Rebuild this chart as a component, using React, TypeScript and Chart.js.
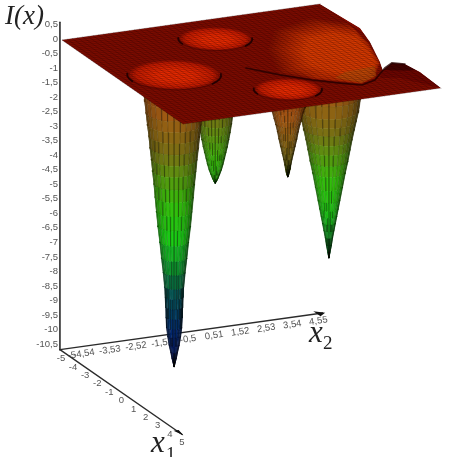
import React, { useEffect, useRef } from "react";
import { Chart, registerables } from "chart.js";

Chart.register(...registerables);

// ---- values ----
const zTicks = ["0,5","0","-0,5","-1","-1,5","-2","-2,5","-3","-3,5","-4","-4,5","-5","-5,5","-6","-6,5","-7","-7,5","-8","-8,5","-9","-9,5","-10","-10,5"];
const zTickValues = [0.5,0,-0.5,-1,-1.5,-2,-2.5,-3,-3.5,-4,-4.5,-5,-5.5,-6,-6.5,-7,-7.5,-8,-8.5,-9,-9.5,-10,-10.5];
const x1Ticks = [-5,-4,-3,-2,-1,0,1,2,3,4,5];
const x2TickValues = [-5,-4.54,-3.53,-2.52,-1.51,-0.5,0.51,1.52,2.53,3.54,4.55];
const x2Ticks = ["-5","-4,54","-3,53","-2,52","-1,51","-0,5","0,51","1,52","2,53","3,54","4,55"];

// four wells: centre, depth levels and radius at each level
const well1 = { x1: 0, x2: -3,
  z: [0,-0.5,-0.86,-1.3,-1.7,-2.1,-2.5,-2.9,-3.3,-3.75,-4.2,-4.7,-5.2,-5.75,-6.3,-6.8,-7.3,-7.65,-8,-8.35,-8.7,-9,-9.3,-9.55,-9.75,-9.9,-10.05],
  r: [1.2,1.1,1.05,1,0.95,0.9,0.86,0.81,0.77,0.72,0.68,0.63,0.58,0.51,0.45,0.39,0.34,0.32,0.3,0.29,0.27,0.23,0.18,0.12,0.08,0.04,0] };
const well2 = { x1: -3, x2: 0,
  z: [0,-0.5,-1,-1.5,-2,-2.3,-2.6,-2.9,-3.2,-3.45,-3.7,-3.9,-4.1,-4.3,-4.5,-4.65,-4.8,-4.9,-4.97],
  r: [1.2,1.08,0.95,0.83,0.72,0.67,0.62,0.58,0.53,0.48,0.43,0.38,0.33,0.28,0.22,0.16,0.1,0.05,0] };
const well3 = { x1: 3, x2: 0,
  z: [0,-0.2,-0.4,-0.6,-0.75,-1,-1.2,-1.45,-1.7,-1.95,-2.2,-2.4,-2.6,-2.75,-2.85,-2.95,-3.02],
  r: [0.9,0.8,0.7,0.62,0.56,0.49,0.43,0.37,0.32,0.26,0.2,0.15,0.11,0.08,0.06,0.03,0] };
const well4 = { x1: 0, x2: 3,
  z: [0,-0.5,-1,-1.5,-1.96,-2.3,-2.6,-2.95,-3.3,-3.7,-4.1,-4.6,-5.05,-5.35,-5.6,-5.85,-6.1,-6.35,-6.6,-6.85,-7.05],
  r: [1.4,1.3,1.2,1.12,1.05,0.97,0.9,0.82,0.75,0.67,0.58,0.48,0.39,0.33,0.28,0.23,0.18,0.13,0.09,0.04,0] };
const wellsBackToFront = [well2, well4, well3, well1];

// rims seen on the sheet at z = 0
const rimDiscs = [
  { x1: -3, x2: 0, r: 1.3 },
  { x1: 0, x2: -3, r: 1.65 },
  { x1: 3, x2: 0, r: 1.2 },
];

// colour against height
const colorLevels = [0,-1,-2.5,-4.2,-5.5,-6.8,-7.4,-8.8,-10.1];
const colorRgb = [[150,62,14],[150,82,18],[112,104,18],[50,175,10],[24,190,20],[10,130,50],[8,90,85],[0,40,115],[0,15,95]];

// sheet outline
const sheetOutline = [[-5,-5],[-5,5],[-2.07,5.18],[-0.54,4.85],[1.58,4.24],[2.41,3.96],[1.84,4.58],[2.12,4.95],[3.12,5.07],[5,5],[5,-5]];
const outsideCorners = [[5,8],[-5,8]];
const patch1 = [[-3.05,2.34],[-3.75,4.02],[-2.8,5],[-0.57,4.78],[1.58,4.24],[3.11,3.36],[3.51,2.63],[2.33,1.26],[1.38,0.45],[-1.16,1.19]];
const patch2 = [[-2.37,2.8],[-2.75,4.14],[-1.94,4.92],[-0.37,4.68],[1.66,4.16],[3.06,3.23],[3.38,2.62],[2.27,1.39],[1,1.22],[-0.88,1.83]];
const patch3 = [[-1.77,3.09],[-1.91,4.14],[-1.11,4.64],[0.22,4.41],[1.62,4.06],[2.56,3.2],[2.3,2.7],[1.95,2.32],[1.04,1.86],[-0.48,2.22]];
const patch4 = [[2.08,2.64],[1.91,3.89],[2.91,3.46],[3.41,2.68],[2.55,2.04]];
const hump = [[2.41,3.96],[1.84,4.58],[2.12,4.95],[3.12,5.07],[5,5],[3.44,4.14],[3.17,3.49]];
const humpCrest = [[2.41,3.96],[1.84,4.58],[2.12,4.95],[2.9,5.0],[2.7,4.5]];
const creaseLine = [[0.32,-0.36],[1.48,0.41],[2.42,1.21],[3.11,1.97],[3.61,2.59],[3.29,3.24],[2.24,4.12],[1.84,4.58],[2.12,4.95]];

// ---- oblique view of the axes ----
const px = (a: number, b: number, z: number) => 62 + (a + 5) * 12.1 + (b + 5) * 25.8;
const py = (a: number, b: number, z: number) => 40 + (a + 5) * 8.4 - (b + 5) * 3.6 - z * 29.05;
const pt = (a: number, b: number, z = 0) => ({ x: px(a, b, z), y: py(a, b, z) });

function colorAt(z: number): number[] {
  for (let i = 1; i < colorLevels.length; i++) {
    if (z >= colorLevels[i]) {
      const t = (colorLevels[i - 1] - z) / (colorLevels[i - 1] - colorLevels[i]);
      return colorRgb[i].map((c, k) => colorRgb[i - 1][k] + (c - colorRgb[i - 1][k]) * t);
    }
  }
  return colorRgb[colorRgb.length - 1];
}
const rgb = (c: number[], s = 1) => `rgb(${c.map((v) => Math.min(255, Math.round(v * s))).join(",")})`;
const mix = (a: number[], b: number[], t: number) => a.map((v, i) => v + (b[i] - v) * t);

function buildLayers() {
  const layers: any[] = [];
  const poly = (data: any[], fillColor: string, line = "transparent", width = 0) =>
    layers.push({ data, fill: "shape", backgroundColor: fillColor, borderColor: line, borderWidth: width, pointRadius: 0, tension: 0 });
  const stroke = (data: any[], line: string, width: number) =>
    layers.push({ data, fill: false, borderColor: line, borderWidth: width, pointRadius: 0, tension: 0, borderCapStyle: "round" });

  // axes
  const ox1 = -5, ox2 = -5.08, oz = -10.65;
  const axisColor = "#2b2b2b";
  stroke([pt(ox1, ox2, oz), pt(ox1, ox2, 0.62)], axisColor, 1.6);
  stroke([pt(ox1, ox2, oz), pt(5.1, ox2, oz)], axisColor, 1.4);
  stroke([pt(ox1, ox2, oz), pt(ox1, 5.1, oz)], axisColor, 1.4);
  poly([pt(5.2, ox2, oz), pt(4.6, ox2 + 0.1, oz), pt(4.6, ox2 - 0.1, oz)], "#111");
  poly([pt(ox1, 5.2, oz), pt(ox1 - 0.3, 4.88, oz), pt(ox1 + 0.3, 4.88, oz)], "#111");

  // wells
  const spokes = 14;
  const frontAngle = -25.1;
  for (const w of wellsBackToFront) {
    const at = (r: number, t: number, z: number) => pt(w.x1 + r * Math.cos(t), w.x2 + r * Math.sin(t), z);
    const ang = (s: number) => ((frontAngle - 90 + (180 * s) / spokes) * Math.PI) / 180;
    for (let lv = 0; lv < w.z.length - 1; lv++) {
      for (let s = 0; s < spokes; s++) {
        const u = ((s + 0.5) / spokes) * 2 - 1;
        const shade = 0.46 + 0.62 * Math.cos((u * Math.PI) / 2) - 0.1 * u;
        const c = colorAt((w.z[lv] + w.z[lv + 1]) / 2);
        const col = rgb(c, shade);
        poly([at(w.r[lv], ang(s), w.z[lv]), at(w.r[lv], ang(s + 1), w.z[lv]), at(w.r[lv + 1], ang(s + 1), w.z[lv + 1]), at(w.r[lv + 1], ang(s), w.z[lv + 1])], col, col, 0.5);
      }
    }
    for (let s = 1; s < spokes; s++) {
      stroke(w.z.map((z, i) => at(w.r[i], ang(s), z)), "rgba(10,10,0,0.3)", 0.7);
    }
    w.z.forEach((z, i) => {
      if (i % 3 === 0) stroke([0, 2, 4, 6, 8, 10, 12, 14].map((s) => at(w.r[i], ang(s), z)), "rgba(10,10,0,0.14)", 0.6);
    });
  }

  // sheet
  const sheetColor = [126, 12, 0];
  poly(sheetOutline.map(([a, b]) => pt(a, b)), rgb(sheetColor));
  const morph = (from: number[][], to: number[][], c0: number[], c1: number[], steps: number) => {
    for (let i = 0; i < steps; i++) {
      const t = i / steps;
      poly(from.map(([a, b], k) => pt(a + (to[k][0] - a) * t, b + (to[k][1] - b) * t)), rgb(mix(c0, c1, t)));
    }
  };
  morph(patch1, patch2, [130, 17, 0], [180, 40, 0], 6);
  morph(patch2, patch3, [180, 40, 0], [216, 58, 0], 6);
  poly(patch3.map(([a, b]) => pt(a, b)), rgb([216, 58, 0]));
  poly(patch4.map(([a, b]) => pt(a, b)), "rgba(175,82,10,0.6)");
  poly(hump.map(([a, b]) => pt(a, b)), "#6e0600");
  poly(humpCrest.map(([a, b]) => pt(a, b)), "#420200");

  // rims
  const ring = (d: any, f: number, from = 0, to = 360) => {
    const out: any[] = [];
    const shift = (1 - f) * 0.2;
    for (let t = from; t <= to; t += 10) {
      const q = (t * Math.PI) / 180;
      out.push(pt(d.x1 + shift + d.r * f * Math.cos(q), d.x2 + d.r * f * Math.sin(q)));
    }
    return out;
  };
  for (const d of rimDiscs) {
    const n = 12;
    for (let i = 0; i < n; i++) {
      const t = i / (n - 1);
      const f = 1 - t * 0.6;
      const c = t < 0.25 ? mix([132, 14, 0], [196, 28, 0], t / 0.25) : mix([196, 28, 0], [232, 42, 0], (t - 0.25) / 0.75);
      poly(ring(d, f), rgb(c));
    }
    stroke(ring(d, 1, -90, 40), "rgba(50,0,0,0.35)", 1);
    stroke(ring(d, 1, -118, -80), "rgba(25,0,0,0.85)", 1.8);
    stroke(ring(d, 1, 30, 70), "rgba(25,0,0,0.85)", 1.8);
  }

  // mesh
  for (let k = -25; k <= 25; k++) {
    const v = k / 5;
    stroke([pt(v, -5), pt(v, 5)], "rgba(25,0,0,0.3)", 0.8);
    stroke([pt(-5, v), pt(5, v)], "rgba(25,0,0,0.3)", 0.8);
  }
  poly([...sheetOutline.slice(1, 10), ...outsideCorners].map(([a, b]) => pt(a, b)), "#ffffff");
  stroke(creaseLine.map(([a, b]) => pt(a, b)), "rgba(35,0,0,0.8)", 1.7);
  return layers.reverse();
}

const tickPlugin = {
  id: "obliqueTicks",
  beforeDatasetsDraw(chart: any) {
    const { ctx, scales } = chart;
    const sx = (v: number) => scales.x.getPixelForValue(v);
    const sy = (v: number) => scales.y.getPixelForValue(v);
    ctx.save();
    ctx.fillStyle = "#555";
    ctx.font = "9.5px 'Liberation Sans'";
    ctx.textBaseline = "middle";
    ctx.textAlign = "right";
    zTicks.forEach((label, i) => {
      ctx.fillText(label, sx(px(-5, -5, zTickValues[i])) - 4, sy(py(-5, -5, zTickValues[i])) - 1);
    });
    ctx.textAlign = "center";
    x1Ticks.forEach((v) => {
      ctx.fillText(String(v), sx(px(v, -5.08, -10.65)) + 1, sy(py(v, -5.08, -10.65)) + 9);
    });
    x2Ticks.forEach((label, i) => {
      const v = x2TickValues[i];
      ctx.save();
      ctx.translate(sx(px(-5, v, -10.65)) + 10, sy(py(-5, v, -10.65)) + 6);
      ctx.rotate((-8 * Math.PI) / 180);
      ctx.fillText(label, 0, 0);
      ctx.restore();
    });
    ctx.restore();
  },
  afterDatasetsDraw(chart: any) {
    const { ctx } = chart;
    ctx.save();
    ctx.fillStyle = "#222";
    ctx.textAlign = "left";
    ctx.textBaseline = "alphabetic";
    ctx.font = "italic 27px 'Liberation Serif'";
    ctx.fillText("I(x)", 5, 24);
    ctx.font = "italic 31px 'Liberation Serif'";
    ctx.fillText("x", 309, 342);
    ctx.fillText("x", 151, 452);
    ctx.font = "19px 'Liberation Serif'";
    ctx.fillText("2", 323, 349);
    ctx.fillText("1", 166, 460);
    ctx.restore();
  },
};

export default function App() {
  const ref = useRef<HTMLCanvasElement>(null);
  useEffect(() => {
    const chart = new Chart(ref.current as HTMLCanvasElement, {
      type: "line",
      data: { datasets: buildLayers() },
      options: {
        animation: false,
        responsive: false,
        events: [],
        layout: { padding: 0 },
        plugins: { legend: { display: false }, tooltip: { enabled: false } },
        scales: {
          x: { type: "linear", min: 0, max: 459, display: false },
          y: { type: "linear", min: 0, max: 457, reverse: true, display: false },
        },
      },
      plugins: [tickPlugin],
    } as any);
    return () => chart.destroy();
  }, []);
  return (
    <div style={{ position: "absolute", left: 0, top: 0, width: 459, height: 457, overflow: "hidden", background: "#fff" }}>
      <canvas ref={ref} width={459} height={457} style={{ display: "block", filter: "blur(0.45px)" }} />
    </div>
  );
}
